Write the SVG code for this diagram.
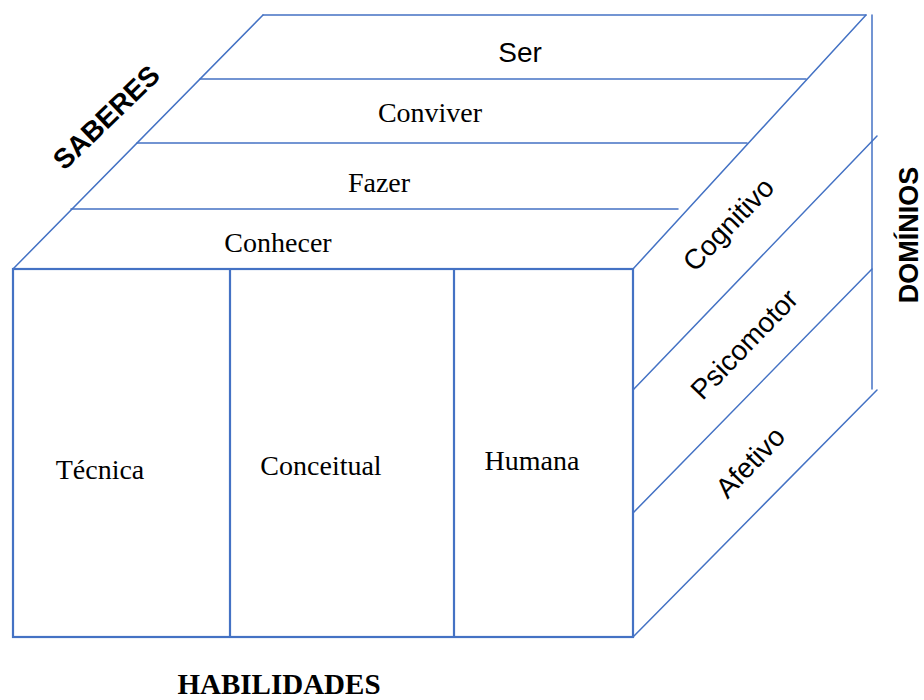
<svg xmlns="http://www.w3.org/2000/svg" width="924" height="700" viewBox="0 0 924 700">
<style>
.ln{stroke:#4472C4;stroke-width:1.5;fill:none;stroke-linecap:round}
.fr{stroke:#4472C4;stroke-width:2.2;fill:none}
.serif{font-family:"Liberation Serif","Times New Roman",serif;font-size:28px;fill:#000}
.sans{font-family:"Liberation Sans",Arial,sans-serif;font-size:28px;fill:#000}
.bs{font-family:"Liberation Serif","Times New Roman",serif;font-size:29px;font-weight:bold;fill:#000}
.bsa{font-family:"Liberation Sans",Arial,sans-serif;font-weight:bold;fill:#000}
</style>
<rect width="924" height="700" fill="#fff"/>
<g id="connectors">
<line class="ln" x1="263" y1="15" x2="866" y2="15"/>
<line class="ln" x1="13" y1="269" x2="263" y2="15"/>
<line class="ln" x1="633" y1="269" x2="866" y2="15"/>
<line class="ln" x1="200" y1="79" x2="806" y2="79"/>
<line class="ln" x1="137" y1="143" x2="747" y2="143"/>
<line class="ln" x1="71" y1="209" x2="678" y2="209"/>
<line class="ln" x1="872" y1="15" x2="872" y2="389"/>
<line class="ln" x1="633" y1="390" x2="877" y2="136"/>
<line class="ln" x1="633" y1="513" x2="872" y2="269"/>
<line class="ln" x1="633" y1="637" x2="877" y2="390"/>
</g>
<g id="front">
<rect class="fr" x="13" y="269" width="620" height="368"/>
<line class="fr" x1="230" y1="269" x2="230" y2="637"/>
<line class="fr" x1="454" y1="269" x2="454" y2="637"/>
</g>
<g id="node-ser"><text class="sans" x="520" y="62" text-anchor="middle">Ser</text></g>
<g id="node-conviver"><text class="serif" x="430" y="122" text-anchor="middle">Conviver</text></g>
<g id="node-fazer"><text class="serif" x="379" y="192" text-anchor="middle">Fazer</text></g>
<g id="node-conhecer"><text class="serif" x="278" y="252" text-anchor="middle">Conhecer</text></g>
<g id="node-tecnica"><text class="serif" x="100" y="479" text-anchor="middle">Técnica</text></g>
<g id="node-conceitual"><text class="serif" x="321" y="475" text-anchor="middle">Conceitual</text></g>
<g id="node-humana"><text class="serif" x="532" y="470" text-anchor="middle">Humana</text></g>
<g id="node-cognitivo"><text class="sans" transform="translate(728,224) rotate(-46)" x="0" y="10" text-anchor="middle">Cognitivo</text></g>
<g id="node-psicomotor"><text class="sans" transform="translate(744,344) rotate(-46)" x="0" y="10" text-anchor="middle">Psicomotor</text></g>
<g id="node-afetivo"><text class="sans" transform="translate(750,462) rotate(-46)" x="0" y="10" text-anchor="middle">Afetivo</text></g>
<g id="label-saberes"><text class="bsa" font-size="28" transform="translate(106,117) rotate(-44)" x="0" y="10" text-anchor="middle">SABERES</text></g>
<g id="label-dominios"><text class="bsa" font-size="27" transform="translate(908,235) rotate(-90)" x="0" y="10" text-anchor="middle">DOMÍNIOS</text></g>
<g id="label-habilidades"><text class="bs" x="279" y="694" text-anchor="middle">HABILIDADES</text></g>
</svg>
